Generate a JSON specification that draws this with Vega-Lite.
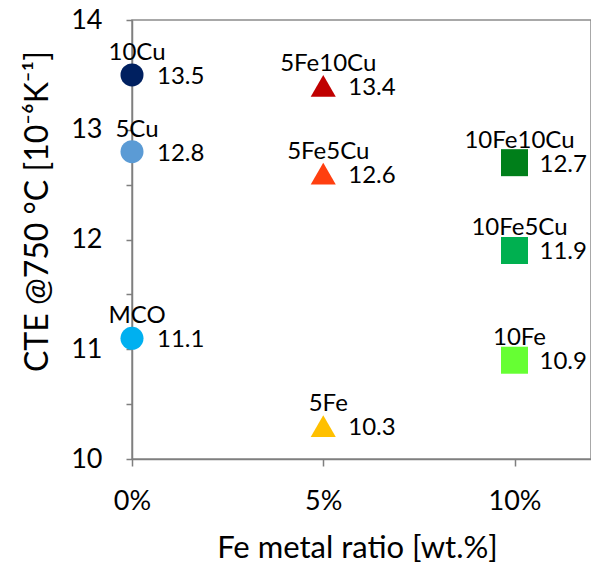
{
  "$schema": "https://vega.github.io/schema/vega-lite/v6.json",
  "autosize": {"type": "none"},
  "padding": {"left": 132, "top": 20, "right": 0, "bottom": 106},
  "width": 459,
  "height": 439,
  "background": "white",
  "config": {
    "font": "Lato",
    "view": {"stroke": "#8c8c8c", "strokeWidth": 1.5},
    "axis": {"grid": false, "labelFlush": false, "domainColor": "#7f7f7f", "domainWidth": 1.5, "tickColor": "#7f7f7f", "tickWidth": 1.5, "labelColor": "#000", "titleColor": "#000", "labelFont": "Lato", "titleFont": "Lato", "labelFontWeight": "normal", "titleFontWeight": "normal"}
  },
  "data": {
    "values": [
      {"name": "10Cu", "series": "Cu", "fe": 0, "cte": 13.5},
      {"name": "5Cu", "series": "Cu", "fe": 0, "cte": 12.8},
      {"name": "MCO", "series": "Cu", "fe": 0, "cte": 11.1},
      {"name": "5Fe10Cu", "series": "5Fe", "fe": 0.05, "cte": 13.4},
      {"name": "5Fe5Cu", "series": "5Fe", "fe": 0.05, "cte": 12.6},
      {"name": "5Fe", "series": "5Fe", "fe": 0.05, "cte": 10.3},
      {"name": "10Fe10Cu", "series": "10Fe", "fe": 0.1, "cte": 12.7},
      {"name": "10Fe5Cu", "series": "10Fe", "fe": 0.1, "cte": 11.9},
      {"name": "10Fe", "series": "10Fe", "fe": 0.1, "cte": 10.9}
    ]
  },
  "encoding": {
    "x": {
      "field": "fe", "type": "quantitative",
      "scale": {"domain": [0, 0.12], "nice": false, "zero": false},
      "axis": {
        "values": [0, 0.05, 0.1], "format": ".0%", "tickSize": 7, "labelPadding": 22,
        "labelFontSize": 27, "title": "Fe metal ratio [wt.%]", "titleFontSize": 31,
        "titleX": 225, "titleY": 98, "titleBaseline": "alphabetic", "titleAlign": "center"
      }
    },
    "y": {
      "field": "cte", "type": "quantitative",
      "scale": {"domain": [10, 14], "nice": false, "zero": false},
      "axis": {
        "values": [10, 10.5, 11, 11.5, 12, 12.5, 13, 13.5, 14],
        "labelExpr": "datum.value % 1 == 0 ? format(datum.value, 'd') : ''",
        "tickSize": 6, "labelPadding": 24, "labelFontSize": 27,
        "title": "CTE @750 °C [10⁻⁶K⁻¹]", "titleFontSize": 32,
        "titleAngle": -90, "titleX": -85, "titleY": 191, "titleBaseline": "alphabetic", "titleAlign": "center"
      }
    }
  },
  "layer": [
    {
      "mark": {"type": "point", "filled": true, "opacity": 1},
      "encoding": {
        "shape": {"field": "series", "type": "nominal", "scale": {"domain": ["Cu", "5Fe", "10Fe"], "range": ["circle", "triangle-up", "square"]}, "legend": null},
        "size": {"field": "series", "type": "nominal", "scale": {"domain": ["Cu", "5Fe", "10Fe"], "range": [529, 729, 529]}, "legend": null},
        "color": {"field": "name", "type": "nominal", "scale": {
          "domain": ["10Cu", "5Cu", "MCO", "5Fe10Cu", "5Fe5Cu", "5Fe", "10Fe10Cu", "10Fe5Cu", "10Fe"],
          "range": ["#002060", "#5B9BD5", "#00B0F0", "#C00000", "#FF3F10", "#FFC000", "#007F1A", "#00B050", "#66FF33"]}, "legend": null}
      }
    },
    {
      "mark": {"type": "text", "align": "center", "baseline": "alphabetic", "dx": 5, "dy": -15, "fontSize": 24, "color": "#000"},
      "encoding": {"text": {"field": "name"}}
    },
    {
      "mark": {"type": "text", "align": "left", "baseline": "middle", "dx": 25, "dy": 2, "fontSize": 24, "color": "#000"},
      "encoding": {"text": {"field": "cte", "format": ".1f"}}
    }
  ]
}
